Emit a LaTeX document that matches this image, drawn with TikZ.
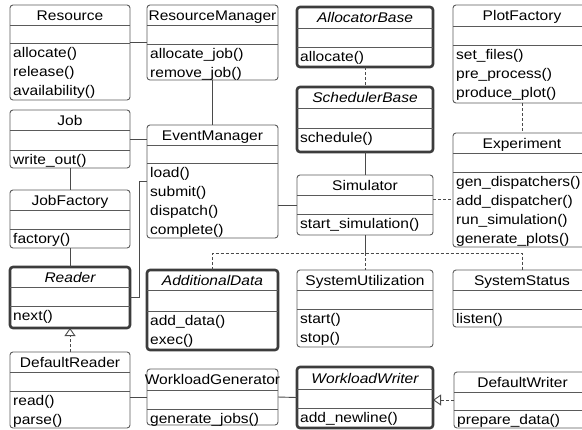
\documentclass[tikz,border=0pt]{standalone}
\usepackage{fontspec}
\setmainfont[FakeStretch=1.11]{Liberation Sans}
\usetikzlibrary{arrows.meta,calc}
\definecolor{boxline}{HTML}{5A5A5A}
\definecolor{thickline}{HTML}{3C3C3C}
\definecolor{connline}{HTML}{4A4A4A}
\tikzset{
  thinbox/.style={draw=boxline, line width=0.9bp, rounded corners=3bp, inner sep=0pt, outer sep=0pt},
  thickbox/.style={draw=thickline, line width=2.6bp, rounded corners=3bp, inner sep=0pt, outer sep=0pt},
  sepline/.style={draw=boxline, line width=0.8bp},
  titletext/.style={inner sep=0pt, font=\fontsize{14bp}{19bp}\selectfont},
  methtext/.style={inner sep=0pt, font=\fontsize{14bp}{19bp}\selectfont},
  conn/.style={draw=connline, line width=0.9bp},
  dconn/.style={conn, dash pattern=on 3bp off 2bp},
  realize/.style={dconn, -{Triangle[open, length=8bp, width=11bp, line width=0.9bp]}},
}
% name, style, x1, y1, x2, y2, s1, s2, title
\newcommand\umlclass[9]{%
  \node[#2, minimum width={(#5-#3)*1bp}, minimum height={(#6-#4)*1bp}, anchor=north west] (#1) at (#3,#4) {};
  \draw[sepline] (#3,#7) -- (#5,#7);
  \draw[sepline] (#3,#8) -- (#5,#8);
  \node[titletext, anchor=base] (#1-title) at ({(#3+#5)/2},{(#4+#7)/2+5}) {#9};
  \coordinate (#1-ms) at ({#3+3},{#8+14});
}
\newcommand\umlmethods[2]{%
  \foreach \m [count=\i from 0] in {#2}
    \node[methtext, anchor=base west] (#1-m\i) at ($(#1-ms)+(0,{19*\i})$) {\m};
}
\begin{document}
\begin{tikzpicture}[x=1bp, y=-1bp]
\useasboundingbox (0,0) rectangle (582,429);
% left column
\umlclass{Resource}{thinbox}{10}{5}{130}{100}{25}{43}{Resource}
\umlmethods{Resource}{allocate(), release(), availability()}
\umlclass{Job}{thinbox}{10}{110}{130}{168}{130}{150}{Job}
\umlmethods{Job}{write\_out()}
\umlclass{JobFactory}{thinbox}{10}{190}{130}{248}{210}{229}{JobFactory}
\umlmethods{JobFactory}{factory()}
\umlclass{Reader}{thickbox}{10}{267}{130}{328}{287}{306}{\itshape Reader}
\umlmethods{Reader}{next()}
\umlclass{DefaultReader}{thinbox}{10}{352}{130}{428}{372}{391}{DefaultReader}
\umlmethods{DefaultReader}{read(), parse()}
% second column
\umlclass{ResourceManager}{thinbox}{147}{5}{278}{80}{25}{44}{ResourceManager}
\umlmethods{ResourceManager}{allocate\_job(), remove\_job()}
\umlclass{EventManager}{thinbox}{147}{125}{278}{238}{145}{163}{EventManager}
\umlmethods{EventManager}{load(), submit(), dispatch(), complete()}
\umlclass{AdditionalData}{thickbox}{147}{270}{278}{350}{290}{311}{\itshape AdditionalData}
\umlmethods{AdditionalData}{add\_data(), exec()}
\umlclass{WorkloadGenerator}{thinbox}{147}{369}{278}{425}{390}{409}{WorkloadGenerator}
\umlmethods{WorkloadGenerator}{generate\_jobs()}
% third column
\umlclass{AllocatorBase}{thickbox}{297}{7}{433}{67}{28}{47}{\itshape AllocatorBase}
\umlmethods{AllocatorBase}{allocate()}
\umlclass{SchedulerBase}{thickbox}{297}{87}{433}{152}{108}{128}{\itshape SchedulerBase}
\umlmethods{SchedulerBase}{schedule()}
\umlclass{Simulator}{thinbox}{297}{175}{433}{235}{195}{214}{Simulator}
\umlmethods{Simulator}{start\_simulation()}
\umlclass{SystemUtilization}{thinbox}{297}{270}{433}{347}{290}{309}{SystemUtilization}
\umlmethods{SystemUtilization}{start(), stop()}
\umlclass{WorkloadWriter}{thickbox}{297}{367}{433}{428}{389}{408}{\itshape WorkloadWriter}
\umlmethods{WorkloadWriter}{add\_newline()}
% right column
\umlclass{PlotFactory}{thinbox}{453}{5}{591}{103}{26}{45}{PlotFactory}
\umlmethods{PlotFactory}{set\_files(), pre\_process(), produce\_plot()}
\umlclass{Experiment}{thinbox}{453}{133}{591}{247}{153}{172}{Experiment}
\umlmethods{Experiment}{gen\_dispatchers(), add\_dispatcher(), run\_simulation(), generate\_plots()}
\umlclass{SystemStatus}{thinbox}{453}{270}{591}{327}{290}{309}{SystemStatus}
\umlmethods{SystemStatus}{listen()}
\umlclass{DefaultWriter}{thinbox}{454}{372}{591}{428}{392}{410}{DefaultWriter}
\umlmethods{DefaultWriter}{prepare\_data()}
% connectors
\draw[conn] (ResourceManager.west) -- (ResourceManager.west -| Resource.east);
\draw[conn] (ResourceManager.south) -- (EventManager.north);
\draw[conn] (Job.east) -- (Job.east -| EventManager.west);
\draw[conn] (Job.south) -- (JobFactory.north);
\draw[conn] (JobFactory.south) -- (Reader.north);
\draw[conn] (Reader.east) -- ++(9,0) |- (EventManager.west);
\draw[conn] (Simulator.west) -- (Simulator.west -| EventManager.east);
\draw[dconn] ([yshift=6bp]Simulator.east) -- ([yshift=6bp]Simulator.east -| Experiment.west);
\draw[dconn] (AllocatorBase.south) -- (SchedulerBase.north);
\draw[conn] (SchedulerBase.south) -- (Simulator.north);
\draw[dconn] (PlotFactory.south) -- (Experiment.north);
\coordinate (bus) at ($(Simulator.south)+(0,18)$);
\draw[conn] (Simulator.south) -- (bus);
\draw[dconn] (AdditionalData.north) |- (bus) -| (SystemStatus.north);
\draw[dconn] (bus) -- (SystemUtilization.north);
\draw[realize] (DefaultReader.north) -- (Reader.south);
\draw[conn] (WorkloadGenerator.west) -- (WorkloadGenerator.west -| DefaultReader.east);
\draw[conn] (WorkloadGenerator.east) -- (WorkloadWriter.west);
\draw[realize] (DefaultWriter.west) -- (DefaultWriter.west -| WorkloadWriter.east);
\end{tikzpicture}
\end{document}
